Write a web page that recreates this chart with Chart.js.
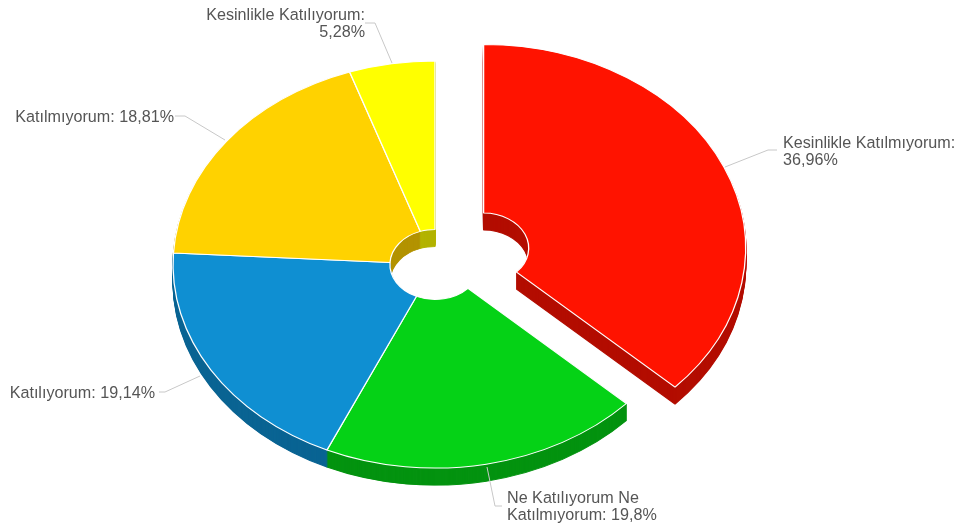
<!DOCTYPE html>
<html>
<head>
<meta charset="utf-8">
<style>html,body{margin:0;padding:0;background:#fff}canvas{display:block}</style>
<script src="https://cdn.jsdelivr.net/npm/chart.js@4"></script>
</head>
<body>
<canvas id="c" width="963" height="531"></canvas>
<script>
const categories = ['Kesinlikle Katılmıyorum','Ne Katılıyorum Ne Katılmıyorum','Katılıyorum','Katılmıyorum','Kesinlikle Katılıyorum'];
const values = [36.96, 19.8, 19.14, 18.81, 5.28];
const colors = ['#ff1300','#05d216','#0f8fd2','#ffd200','#ffff00'];
const sideColors = ['#b30d00','#049310','#0a6493','#b39300','#b3b300'];
const explode = [53, 0, 0, 0, 0];
const labelLines = [
  ['Kesinlikle Katılmıyorum:','36,96%'],
  ['Ne Katılıyorum Ne','Katılmıyorum: 19,8%'],
  ['Katılıyorum: 19,14%'],
  ['Katılmıyorum: 18,81%'],
  ['Kesinlikle Katılıyorum:','5,28%']
];
const labelAnchors = [[783,148,'left'],[507,503,'left'],[155,398,'right'],[174,122,'right'],[365,20,'right']];
const connectors = [
  [[777,150],[768,150],[725,167]],
  [[487,467],[495,506],[502,506]],
  [[159,392],[165,392],[200,376]],
  [[175,116],[185,116],[225,140]],
  [[365,23],[375,23],[392,63]]
];
const TILT = 0.777, DEPTH = 17;

const pie3d = {
  id: 'pie3d',
  beforeDatasetDraw(chart, args) {
    const ctx = chart.ctx, arcs = args.meta.data;
    const cy = (chart.chartArea.top + chart.chartArea.bottom) / 2;
    const drawArc = (arc, i, d, side) => {
      const mid = (arc.startAngle + arc.endAngle) / 2;
      ctx.save();
      ctx.translate(0, cy + d);
      ctx.scale(1, TILT);
      ctx.translate(0, -cy);
      ctx.translate(Math.cos(mid) * explode[i], Math.sin(mid) * explode[i]);
      if (side) {
        const base = arc.options;
        const o = Object.create(base);
        Object.defineProperty(o, 'backgroundColor', {value: sideColors[i]});
        Object.defineProperty(o, 'borderColor', {value: sideColors[i]});
        arc.options = o;
        arc.draw(ctx);
        arc.options = base;
      } else {
        arc.draw(ctx);
      }
      ctx.restore();
    };
    for (let d = DEPTH; d >= 1; d--) arcs.forEach((a, i) => drawArc(a, i, d, true));
    arcs.forEach((a, i) => drawArc(a, i, 0, false));
    return false;
  },
  afterDraw(chart) {
    const ctx = chart.ctx;
    ctx.save();
    ctx.strokeStyle = '#c8c8c8';
    ctx.lineWidth = 1;
    connectors.forEach(pts => {
      ctx.beginPath();
      pts.forEach((p, i) => i ? ctx.lineTo(p[0], p[1]) : ctx.moveTo(p[0], p[1]));
      ctx.stroke();
    });
    ctx.fillStyle = '#555555';
    ctx.font = '16.15px "Liberation Sans", Arial, sans-serif';
    ctx.textBaseline = 'alphabetic';
    labelLines.forEach((lines, i) => {
      const [x, y, align] = labelAnchors[i];
      ctx.textAlign = align;
      lines.forEach((t, j) => ctx.fillText(t, x, y + j * 17));
    });
    ctx.restore();
  }
};

new Chart(document.getElementById('c'), {
  type: 'doughnut',
  data: { labels: categories, datasets: [{ data: values, backgroundColor: colors, borderColor: '#ffffff', borderWidth: 1.3 }] },
  options: {
    responsive: false,
    animation: false,
    radius: 262,
    cutout: '17.2%',
    layout: { padding: { right: 93, bottom: 2 } },
    plugins: { legend: { display: false }, tooltip: { enabled: false } }
  },
  plugins: [pie3d]
});
</script>
</body>
</html>
